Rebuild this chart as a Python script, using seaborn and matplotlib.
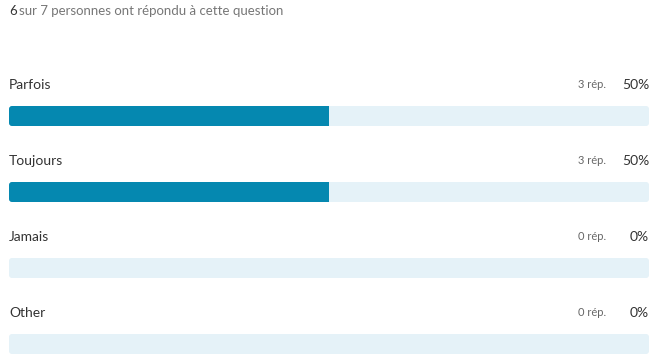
import matplotlib
matplotlib.use("Agg")
import matplotlib.pyplot as plt
from matplotlib.patches import FancyBboxPatch
import seaborn as sns
import pandas as pd

categories = ["Parfois", "Toujours", "Jamais", "Other"]
counts = [3, 3, 0, 0]
percents = [50, 50, 0, 0]
answered = 6
total = 7

sns.set_theme(style="white")
plt.rcParams["font.family"] = ["Lato", "DejaVu Sans"]

df = pd.DataFrame({"cat": categories, "pct": percents, "full": [100] * len(categories)})

W, H = 663, 362
fig = plt.figure(figsize=(W / 100, H / 100), dpi=100)
x0, x1 = 9, 649
ax = fig.add_axes([x0 / W, 0, (x1 - x0) / W, 1])

bw = 20 / 76
sns.barplot(data=df, y="cat", x="full", order=categories, color="#e5f2f8",
            saturation=1, width=bw, ax=ax, orient="h")
n_bg = len(ax.patches)
sns.barplot(data=df, y="cat", x="pct", order=categories, color="#0588b0",
            saturation=1, width=bw, ax=ax, orient="h")

ax.set_xlim(0, 100)
top_c = -116 / 76
bot_c = (H - 116) / 76
ax.set_ylim(bot_c, top_c)
ax.axis("off")

# round the background bar corners (~3 px) and clip the filled bars to them
px_x = (x1 - x0) / 100
px_y = 76
r = 3 / px_x
aspect = px_x / px_y
patches = list(ax.patches)
bg, fg = patches[:n_bg], patches[n_bg:]
rounded = []
for p in bg:
    fb = FancyBboxPatch((p.get_x(), p.get_y()), p.get_width(), p.get_height(),
                        boxstyle=f"round,pad=0,rounding_size={r}",
                        mutation_aspect=aspect, facecolor=p.get_facecolor(),
                        edgecolor="none", linewidth=0, zorder=p.get_zorder())
    p.remove()
    ax.add_patch(fb)
    rounded.append(fb)
for p, fb in zip(fg, rounded):
    p.set_zorder(fb.get_zorder() + 0.1)
    p.set_linewidth(0)
    p.set_clip_path(fb)

lab_off = -31 / 76
for i, (c, n, p) in enumerate(zip(categories, counts, percents)):
    ax.text(0, i + lab_off, c, ha="left", va="center", fontsize=10, color="#333333")
    ax.text((606 - x0) / (x1 - x0) * 100, i + lab_off, f"{n} rép.", ha="right",
            va="center", fontsize=8, color="#666666")
    ax.text(100, i + lab_off, f"{p}%", ha="right", va="center", fontsize=10,
            color="#333333")

fig.text(9 / W, 1 - 11 / H, f"{answered}", ha="left", va="center", fontsize=9.5,
         color="#333333")
fig.text(19 / W, 1 - 11 / H, f"sur {total} personnes ont répondu à cette question",
         ha="left", va="center", fontsize=9.5, color="#777777")

fig.savefig("out.png", dpi=100)
